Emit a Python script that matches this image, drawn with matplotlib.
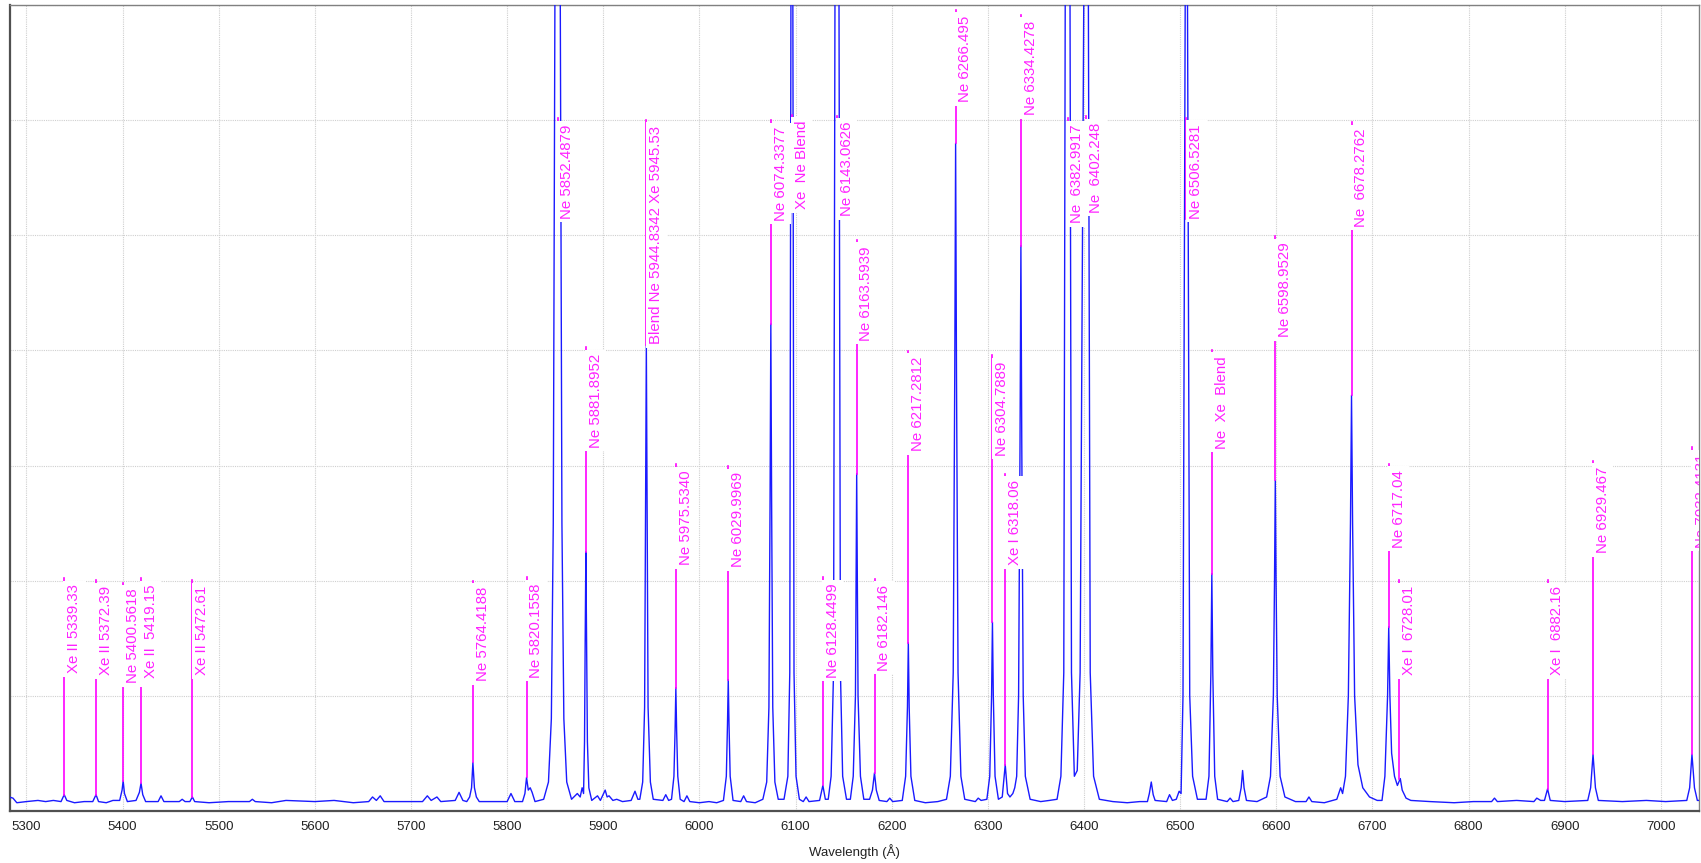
import matplotlib
matplotlib.use("Agg")
import matplotlib.pyplot as plt

plt.rcParams["font.family"] = ["Liberation Sans", "DejaVu Sans"]

# spectrum vertices (wavelength A, intensity)
spectrum_pts = [
    (5282, 0.12), (5286, 0.11), (5290, 0.07), (5300, 0.08), (5312, 0.09), (5320, 0.08),
    (5328, 0.09), (5336, 0.08), (5339.3, 0.14), (5342, 0.09), (5350, 0.07), (5360, 0.08),
    (5369, 0.08), (5372.4, 0.14), (5375, 0.08), (5383, 0.07), (5390, 0.09),
    (5397, 0.09), (5399.5, 0.18), (5400.6, 0.26), (5402, 0.15), (5405, 0.08),
    (5414, 0.09), (5417.5, 0.16), (5419.2, 0.24), (5421, 0.14), (5424, 0.08),
    (5437, 0.08), (5440, 0.13), (5443, 0.08), (5459, 0.08), (5462, 0.10), (5465, 0.08),
    (5470, 0.08), (5472.6, 0.12), (5475, 0.08), (5490, 0.07), (5510, 0.08),
    (5532, 0.08), (5535, 0.10), (5538, 0.08), (5555, 0.07), (5570, 0.09),
    (5600, 0.08), (5620, 0.09), (5640, 0.07), (5656, 0.08), (5660, 0.12), (5664, 0.09),
    (5668, 0.13), (5672, 0.08), (5690, 0.08),
    (5712, 0.08), (5717, 0.13), (5721, 0.09), (5727, 0.12), (5731, 0.08),
    (5746, 0.09), (5750, 0.16), (5754, 0.09),
    (5758, 0.08), (5761, 0.12), (5763, 0.2), (5764.4, 0.42), (5766, 0.2), (5768, 0.12), (5771, 0.08),
    (5785, 0.08), (5800, 0.08), (5804, 0.15), (5808, 0.08),
    (5816, 0.08), (5818.5, 0.15), (5820.2, 0.29), (5822, 0.18), (5824, 0.2), (5826, 0.16), (5829, 0.08),
    (5838, 0.1), (5843, 0.25), (5846, 0.8), (5848, 2.5), (5849.7, 7.0), (5852.5, 40),
    (5855.3, 7.0), (5857, 2.5), (5859, 0.8), (5862, 0.25), (5867, 0.1),
    (5873, 0.15), (5876, 0.12), (5878, 0.2), (5879.5, 0.15),
    (5880.5, 0.6), (5881.2, 1.5), (5881.9, 2.25), (5882.6, 1.5), (5883.5, 0.6), (5885, 0.2), (5888, 0.09),
    (5894, 0.13), (5897, 0.09), (5902, 0.18), (5904, 0.12), (5906, 0.13), (5910, 0.09),
    (5914, 0.1), (5920, 0.08), (5929, 0.09), (5933, 0.17), (5936, 0.1),
    (5938, 0.1), (5941, 0.25), (5943, 0.9), (5944, 2.6), (5944.8, 4.05), (5945.6, 2.6),
    (5946.6, 0.9), (5949, 0.25), (5952, 0.1),
    (5962, 0.09), (5965, 0.14), (5968, 0.09),
    (5971, 0.1), (5973.5, 0.3), (5974.7, 0.7), (5975.5, 1.07), (5976.3, 0.7), (5977.5, 0.3), (5980, 0.1),
    (5984, 0.08), (5987, 0.13), (5990, 0.08), (6000, 0.07), (6010, 0.08), (6018, 0.07),
    (6025, 0.09), (6028, 0.3), (6029.2, 0.75), (6030, 1.14), (6030.8, 0.75), (6032, 0.3), (6035, 0.09),
    (6043, 0.08), (6046, 0.13), (6049, 0.08), (6058, 0.07),
    (6066, 0.1), (6070, 0.25), (6072.3, 0.9), (6073.5, 2.7), (6074.3, 4.23), (6075.1, 2.7),
    (6076.3, 0.9), (6078.5, 0.25), (6082, 0.1),
    (6088, 0.1), (6092, 0.3), (6094, 1.2), (6095.2, 7.0), (6096.2, 30), (6097.2, 7.0),
    (6098.4, 1.2), (6100.5, 0.3), (6104, 0.1),
    (6108, 0.08), (6111, 0.12), (6114, 0.08),
    (6125, 0.09), (6128.4, 0.22), (6131, 0.1),
    (6134, 0.1), (6137, 0.3), (6139.5, 1.2), (6141, 7.0), (6143.1, 40), (6145.2, 7.0),
    (6146.7, 1.2), (6149, 0.3), (6153, 0.1),
    (6157, 0.1), (6160, 0.3), (6162.3, 1.0), (6163, 2.0), (6163.6, 2.93), (6164.3, 2.0),
    (6165, 1.0), (6167.5, 0.3), (6171, 0.1),
    (6177, 0.1), (6180, 0.18), (6182.1, 0.33), (6184, 0.18), (6187, 0.09),
    (6195, 0.08), (6198, 0.11), (6201, 0.08),
    (6211, 0.09), (6214.5, 0.3), (6216.4, 0.9), (6217.3, 1.46), (6218.2, 0.9), (6220, 0.3), (6224, 0.09),
    (6235, 0.07), (6248, 0.08),
    (6257, 0.1), (6261, 0.3), (6264, 1.2), (6265.6, 3.8), (6266.5, 5.8), (6267.4, 3.8),
    (6269, 1.2), (6272, 0.3), (6276, 0.1),
    (6287, 0.08), (6290, 0.11), (6293, 0.09),
    (6299, 0.1), (6302, 0.3), (6303.9, 1.0), (6304.8, 1.64), (6305.7, 1.0), (6307.5, 0.3), (6311, 0.1),
    (6315, 0.12), (6318.1, 0.40), (6320.5, 0.15), (6323, 0.12), (6326, 0.15), (6328, 0.2),
    (6330, 0.3), (6332, 1.0), (6333.5, 3.2), (6334.4, 4.91), (6335.3, 3.2), (6336.8, 1.0),
    (6339, 0.3), (6344, 0.1), (6355, 0.08), (6364, 0.09),
    (6372, 0.1), (6376, 0.3), (6379, 1.2), (6380.5, 7.0), (6383.0, 40), (6385.5, 7.0), (6387, 1.2),
    (6390, 0.3), (6393, 0.35),
    (6396, 1.2), (6399.8, 7.0), (6402.2, 40), (6404.6, 7.0), (6406.5, 1.2), (6410, 0.3), (6416, 0.1),
    (6430, 0.08), (6445, 0.07), (6458, 0.08),
    (6466, 0.08), (6468, 0.15), (6470, 0.25), (6472, 0.14), (6474, 0.09),
    (6486, 0.08), (6489, 0.14), (6492, 0.09), (6496, 0.1), (6499, 0.17), (6501, 0.15),
    (6503, 1.0), (6505.3, 7.0), (6506.5, 30), (6507.7, 7.0), (6510, 1.0), (6513, 0.3), (6518, 0.1),
    (6527, 0.1), (6530, 0.3), (6532, 1.2), (6533, 2.06), (6534, 1.2), (6536, 0.3), (6539, 0.1),
    (6549, 0.08), (6552, 0.11), (6555, 0.08),
    (6561, 0.09), (6563.5, 0.2), (6565, 0.35), (6566.5, 0.2), (6569, 0.09), (6580, 0.08),
    (6590, 0.12), (6594, 0.3), (6597, 1.0), (6598.2, 2.0), (6599, 2.87), (6599.8, 2.0),
    (6601, 1.0), (6604, 0.3), (6609, 0.12), (6620, 0.08),
    (6631, 0.08), (6634, 0.12), (6637, 0.08), (6650, 0.07),
    (6663, 0.1), (6667, 0.2), (6669, 0.15), (6670, 0.2),
    (6672, 0.3), (6675, 1.0), (6677.2, 2.5), (6678.3, 3.61), (6679.4, 2.5), (6681.5, 1.0),
    (6685, 0.4), (6690, 0.2), (6697, 0.12), (6705, 0.09),
    (6710, 0.09), (6713, 0.3), (6715.8, 1.0), (6717, 1.6), (6718.2, 1.0), (6720, 0.5),
    (6723, 0.3), (6726, 0.22), (6729, 0.28), (6731, 0.18), (6735, 0.11), (6740, 0.09),
    (6760, 0.08), (6785, 0.07), (6805, 0.08),
    (6824, 0.08), (6827, 0.11), (6830, 0.08), (6850, 0.09), (6868, 0.08), (6871, 0.11), (6875, 0.09),
    (6879, 0.09), (6882.2, 0.19), (6885, 0.09), (6900, 0.08),
    (6924, 0.09), (6927, 0.2), (6929.5, 0.49), (6932, 0.2), (6935, 0.09),
    (6960, 0.08), (6985, 0.09), (7005, 0.08),
    (7027, 0.09), (7030, 0.2), (7032.4, 0.49), (7035, 0.2), (7038, 0.09), (7040, 0.09),
]

# line identifications
line_wl = [5339.33, 5372.39, 5400.56, 5419.15, 5472.61, 5764.42, 5820.16, 5852.49,
           5881.90, 5944.83, 5975.53, 6030.00, 6074.34, 6096.2, 6128.45, 6143.06,
           6163.59, 6182.15, 6217.28, 6266.50, 6304.79, 6318.06, 6334.43, 6382.99,
           6402.25, 6506.53, 6533.0, 6598.95, 6678.28, 6717.04, 6728.01, 6882.16,
           6929.47, 7032.41]
line_text = ["Xe II 5339.33", "Xe II 5372.39", "Ne 5400.5618", "Xe II  5419.15",
             "Xe II 5472.61", "Ne 5764.4188", "Ne 5820.1558", "Ne 5852.4879",
             "Ne 5881.8952", "Blend Ne 5944.8342 Xe 5945.53", "Ne 5975.5340",
             "Ne 6029.9969", "Ne 6074.3377", "Xe  Ne Blend", "Ne 6128.4499",
             "Ne 6143.0626", "Ne 6163.5939", "Ne 6182.146", "Ne 6217.2812",
             "Ne 6266.495", "Ne 6304.7889", "Xe I 6318.06", "Ne 6334.4278",
             "Ne  6382.9917", "Ne  6402.248", "Ne 6506.5281", "Ne  Xe  Blend",
             "Ne 6598.9529", "Ne  6678.2762", "Ne 6717.04", "Xe I  6728.01",
             "Xe I  6882.16", "Ne 6929.467", "Ne 7032.4131"]
# height where the marker line starts (peak top) and where the label sits
line_from = [0.14, 0.14, 0.26, 0.24, 0.12, 0.42, 0.29, 5.14,
             2.25, 4.05, 1.07, 1.14, 4.23, 5.22, 0.22, 5.16,
             2.93, 0.33, 1.46, 5.8, 1.64, 0.40, 4.91, 5.10,
             5.19, 5.14, 2.06, 2.87, 3.61, 1.6, 0.28, 0.19,
             0.49, 0.49]
label_y = [1.19, 1.17, 1.10, 1.15, 1.17, 1.12, 1.15, 5.14,
           3.15, 4.05, 2.13, 2.11, 5.12, 5.22, 1.15, 5.16,
           4.08, 1.21, 3.12, 6.15, 3.08, 2.13, 6.04, 5.10,
           5.19, 5.14, 3.14, 4.11, 5.07, 2.28, 1.17, 1.17,
           2.23, 2.28]

spec_wl, spec_int = zip(*spectrum_pts)

fig = plt.figure(figsize=(17.01, 8.63), dpi=100)
ax = fig.add_axes([0.0057, 0.0605, 0.993, 0.9335])

ax.plot(spec_wl, spec_int, color="#1a1aff", lw=1.0, zorder=3)

ax.set_xlim(5282.6, 7039.5)
ax.set_ylim(0, 7)

box_pad = 2.6  # points
labels = []
for w, txt, y1 in zip(line_wl, line_text, label_y):
    ann = ax.annotate(txt, xy=(w, y1), xytext=(2.0, 0.5), textcoords="offset points",
                      rotation=90, ha="left", va="bottom", fontsize=10.8, color="#ff22ff",
                      bbox=dict(fc="white", ec="none", pad=box_pad), zorder=5,
                      annotation_clip=False, clip_on=True)
    labels.append(ann)

# marker lines run from the peak up past the label (the white box hides the middle)
fig.canvas.draw()
inv = ax.transData.inverted()
for w, y0, ann in zip(line_wl, line_from, labels):
    top_px = ann.get_window_extent().y1 + box_pad * 100 / 72 + 2.5
    y_top = inv.transform((0, top_px))[1]
    ax.plot([w, w], [y0, y_top], color="#ff00ff", lw=1.2, zorder=4)

ax.set_xticks(range(5300, 7001, 100))
ax.set_yticks(range(0, 8))
ax.set_yticklabels([])
ax.tick_params(axis="both", length=0, labelsize=9.5, colors="#222222", pad=7)
ax.grid(True, color="#cfcfcf", lw=0.8, linestyle=(0, (1, 1)), zorder=0)
ax.set_axisbelow(True)
ax.set_xlabel("Wavelength (Å)", fontsize=9.5, labelpad=8, color="#222222")

for s in ["left", "bottom"]:
    ax.spines[s].set_color("#505050")
    ax.spines[s].set_linewidth(1.6)
for s in ["top", "right"]:
    ax.spines[s].set_color("#808080")
    ax.spines[s].set_linewidth(1.0)

fig.savefig("out.png", dpi=100)
